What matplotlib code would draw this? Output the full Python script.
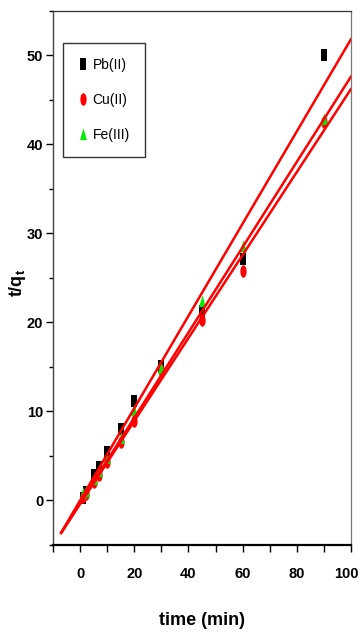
import numpy as np
import matplotlib
matplotlib.use("Agg")
import matplotlib.pyplot as plt
from matplotlib.ticker import MultipleLocator, FuncFormatter

plt.rcParams['font.family'] = ['Liberation Sans', 'DejaVu Sans']
plt.rcParams['mathtext.fontset'] = 'custom'
plt.rcParams['mathtext.bf'] = 'Liberation Sans:bold'
plt.rcParams['mathtext.rm'] = 'Liberation Sans:bold'

time_min = [1, 2, 5, 7, 10, 15, 20, 30, 45, 60, 90]
pb_tq = [0.3, 0.9, 2.8, 3.8, 5.4, 8.0, 11.2, 15.1, 21.3, 27.1, 50.0]
cu_tq = [0.4, 0.7, 2.1, 2.8, 4.3, 6.6, 8.9, 14.6, 20.3, 25.8, 42.5]
fe_tq = [0.8, 1.1, 2.4, 3.3, 4.8, 7.0, 10.2, 14.9, 22.4, 28.6, 42.8]
labels = ['Pb(II)', 'Cu(II)', 'Fe(III)']

# linear fit lines (slope, intercept)
fit_slopes = [0.518, 0.466, 0.479]
fit_intercepts = [0.0, -0.4, -0.3]
fit_range = [-7, 100]

# narrow markers (image is horizontally compressed)
sq = [(-0.45, -1), (0.45, -1), (0.45, 1), (-0.45, 1), (-0.45, -1)]
th = np.linspace(0, 2 * np.pi, 40)
circ = list(zip(0.5 * np.cos(th), np.sin(th)))
tri = [(-0.55, -0.9), (0.55, -0.9), (0.0, 1.0), (-0.55, -0.9)]

fig = plt.figure(figsize=(3.61, 6.38), dpi=100)
ax = fig.add_axes([0.147, 0.146, 0.825, 0.837])

series = [pb_tq, cu_tq, fe_tq]
markers = [sq, circ, tri]
colors = ['black', 'red', '#00ee00']
for vals, m, c, lab in zip(series, markers, colors, labels):
    ax.plot(time_min, vals, linestyle='none', marker=m, color=c, markersize=9,
            markeredgewidth=0, label=lab)

xs = np.array(fit_range, dtype=float)
for s, b in zip(fit_slopes, fit_intercepts):
    ax.plot(xs, s * xs + b, color='red', linewidth=1.8, zorder=3)

ax.set_xlim(-10, 100)
ax.set_ylim(-5, 55)
ax.xaxis.set_major_locator(MultipleLocator(20))
ax.xaxis.set_minor_locator(MultipleLocator(10))
ax.yaxis.set_major_locator(MultipleLocator(10))
ax.yaxis.set_minor_locator(MultipleLocator(5))
# last label drawn separately so it stays inside the figure edge
ax.xaxis.set_major_formatter(FuncFormatter(lambda v, p: '' if v >= 99 else f'{v:.0f}'))

ax.tick_params(axis='x', which='major', direction='out', length=5, width=1, pad=11,
               labelsize=10.5)
ax.tick_params(axis='x', which='minor', direction='out', length=5, width=1)
ax.tick_params(axis='y', which='major', direction='out', length=5, width=1, pad=2,
               labelsize=10.5)
ax.tick_params(axis='y', which='minor', direction='out', length=3, width=1)
for lab in ax.get_xticklabels() + ax.get_yticklabels():
    lab.set_fontweight('bold')

ax.annotate('100', xy=(100, 0), xycoords=('data', 'axes fraction'),
            xytext=(-3, -16), textcoords='offset points', ha='center', va='top',
            fontsize=10.5, fontweight='bold', annotation_clip=False)

ax.spines['bottom'].set_linewidth(1.6)
ax.spines['bottom'].set_color('black')
ax.spines['left'].set_linewidth(1.0)
ax.spines['left'].set_color('#444444')
ax.spines['top'].set_linewidth(0.9)
ax.spines['top'].set_color('#333333')
ax.spines['right'].set_linewidth(0.9)
ax.spines['right'].set_color('#777777')

ax.set_xlabel('time (min)', fontsize=13, fontweight='bold')
ax.xaxis.set_label_coords(0.5, -0.125)
ax.set_ylabel(r'$\mathbf{t/q_t}$', fontsize=13)
ax.yaxis.set_label_coords(-0.085, 0.49)

leg = ax.legend(loc='upper left', bbox_to_anchor=(0.035, 0.94), frameon=True,
                fancybox=False, edgecolor='black', fontsize=10, handlelength=0.6,
                handletextpad=0.4, labelspacing=1.5, borderpad=1.1,
                borderaxespad=0.0)
leg.get_frame().set_linewidth(1.0)

fig.savefig('out.png', dpi=100)
